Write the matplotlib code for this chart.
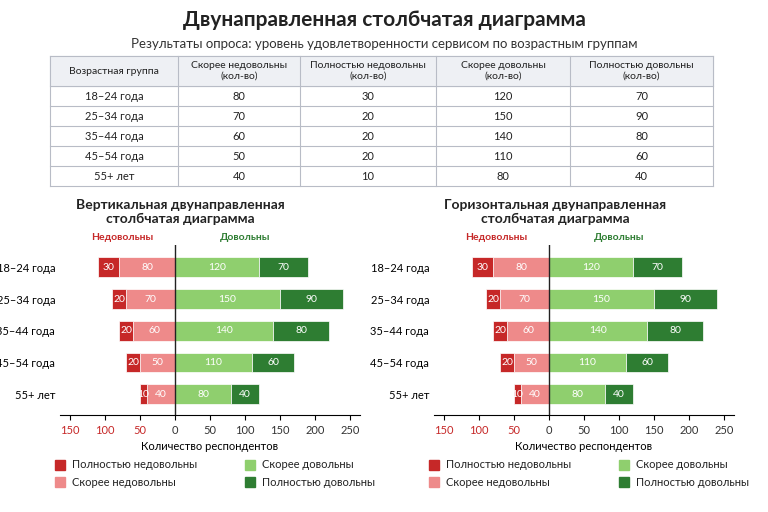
import matplotlib
matplotlib.use("Agg")
import matplotlib.pyplot as plt
from matplotlib.patches import Rectangle

plt.rcParams['font.family'] = ['Lato', 'DejaVu Sans']

groups = ["18–24 года", "25–34 года", "35–44 года", "45–54 года", "55+ лет"]
rather_unsat = [80, 70, 60, 50, 40]
fully_unsat = [30, 20, 20, 20, 10]
rather_sat = [120, 150, 140, 110, 80]
fully_sat = [70, 90, 80, 60, 40]
headers = ["Возрастная группа", "Скорее недовольны\n(кол-во)", "Полностью недовольны\n(кол-во)",
           "Скорее довольны\n(кол-во)", "Полностью довольны\n(кол-во)"]
ticks = [-150, -100, -50, 0, 50, 100, 150, 200, 250]

C_DR, C_LR, C_LG, C_DG = "#c62828", "#ee8a8a", "#8fcf6e", "#2e7d32"
W, H = 768, 512
fig = plt.figure(figsize=(W/100, H/100), dpi=100)

def fx(px): return px / W
def fy(py): return 1 - py / H

fig.text(0.5, fy(20), "Двунаправленная столбчатая диаграмма", ha="center", va="center",
         fontsize=15, fontweight="bold", color="#222")
fig.text(0.5, fy(44), "Результаты опроса: уровень удовлетворенности сервисом по возрастным группам",
         ha="center", va="center", fontsize=9.5, color="#333")

# table
tax = fig.add_axes([0, 0, 1, 1]); tax.set_xlim(0, W); tax.set_ylim(H, 0); tax.axis("off")
cols = [50, 178, 300, 436, 570, 713]
rows = [56, 86, 106, 126, 146, 166, 186]
tax.add_patch(Rectangle((cols[0], rows[0]), cols[-1]-cols[0], rows[1]-rows[0], color="#eef0f4", zorder=0))
for r in rows:
    tax.plot([cols[0], cols[-1]], [r, r], color="#b8bcc6", lw=0.8)
for c in cols:
    tax.plot([c, c], [rows[0], rows[-1]], color="#b8bcc6", lw=0.8)
for j, h in enumerate(headers):
    tax.text((cols[j]+cols[j+1])/2, (rows[0]+rows[1])/2, h, ha="center", va="center", fontsize=7.5, color="#222")
data_cols = [rather_unsat, fully_unsat, rather_sat, fully_sat]
for i, g in enumerate(groups):
    yc = (rows[i+1]+rows[i+2])/2
    tax.text((cols[0]+cols[1])/2, yc, g, ha="center", va="center", fontsize=8, color="#222")
    for j, d in enumerate(data_cols):
        tax.text((cols[j+1]+cols[j+2])/2, yc, str(d[i]), ha="center", va="center", fontsize=8, color="#222")

def chart(left_px, title_x, title):
    ax = fig.add_axes([fx(left_px), fy(415), fx(300), 170/H])
    y = list(range(len(groups)))
    ax.barh(y, [-v for v in rather_unsat], height=0.62, color=C_LR, edgecolor="white", lw=0.5)
    ax.barh(y, [-v for v in fully_unsat], left=[-v for v in rather_unsat], height=0.62, color=C_DR, edgecolor="white", lw=0.5)
    ax.barh(y, rather_sat, height=0.62, color=C_LG, edgecolor="white", lw=0.5)
    ax.barh(y, fully_sat, left=rather_sat, height=0.62, color=C_DG, edgecolor="white", lw=0.5)
    for i in y:
        ax.text(-rather_unsat[i]/2, i, str(rather_unsat[i]), ha="center", va="center", color="white", fontsize=7.5)
        ax.text(-rather_unsat[i]-fully_unsat[i]/2, i, str(fully_unsat[i]), ha="center", va="center", color="white", fontsize=7.5)
        ax.text(rather_sat[i]/2, i, str(rather_sat[i]), ha="center", va="center", color="white", fontsize=7.5)
        ax.text(rather_sat[i]+fully_sat[i]/2, i, str(fully_sat[i]), ha="center", va="center", color="white", fontsize=7.5)
    ax.axvline(0, color="#222", lw=1)
    ax.set_xlim(-164.3, 264.3); ax.set_ylim(4.65, -0.7)
    ax.set_yticks(y); ax.set_yticklabels(groups, fontsize=8)
    ax.tick_params(axis="y", length=0)
    ax.set_xticks(ticks); ax.set_xticklabels([str(abs(t)) for t in ticks], fontsize=8)
    for lab, t in zip(ax.get_xticklabels(), ticks):
        lab.set_color(C_DR if t < 0 else "#333")
    for s in ["top", "right", "left"]:
        ax.spines[s].set_visible(False)
    ax.set_xlabel("Количество респондентов", fontsize=8)
    ax.text(-75, -0.95, "Недовольны", color=C_DR, ha="center", va="center", fontsize=7.5, fontweight="bold")
    ax.text(100, -0.95, "Довольны", color=C_DG, ha="center", va="center", fontsize=7.5, fontweight="bold")
    fig.text(fx(title_x), fy(212), title, ha="center", va="center", fontsize=10, fontweight="bold",
             color="#222", linespacing=1.1)
    lx = left_px - 5
    items = [(lx, 465, C_DR, "Полностью недовольны"), (lx, 482, C_LR, "Скорее недовольны"),
             (lx + 190, 465, C_LG, "Скорее довольны"), (lx + 190, 482, C_DG, "Полностью довольны")]
    for x0, y0, c, t in items:
        tax.add_patch(Rectangle((x0, y0-5), 10, 10, color=c))
        tax.text(x0 + 17, y0, t, va="center", fontsize=8, color="#222")

chart(60, 180, "Вертикальная двунаправленная\nстолбчатая диаграмма")
chart(434, 555, "Горизонтальная двунаправленная\nстолбчатая диаграмма")

fig.savefig("out.png", dpi=100)
